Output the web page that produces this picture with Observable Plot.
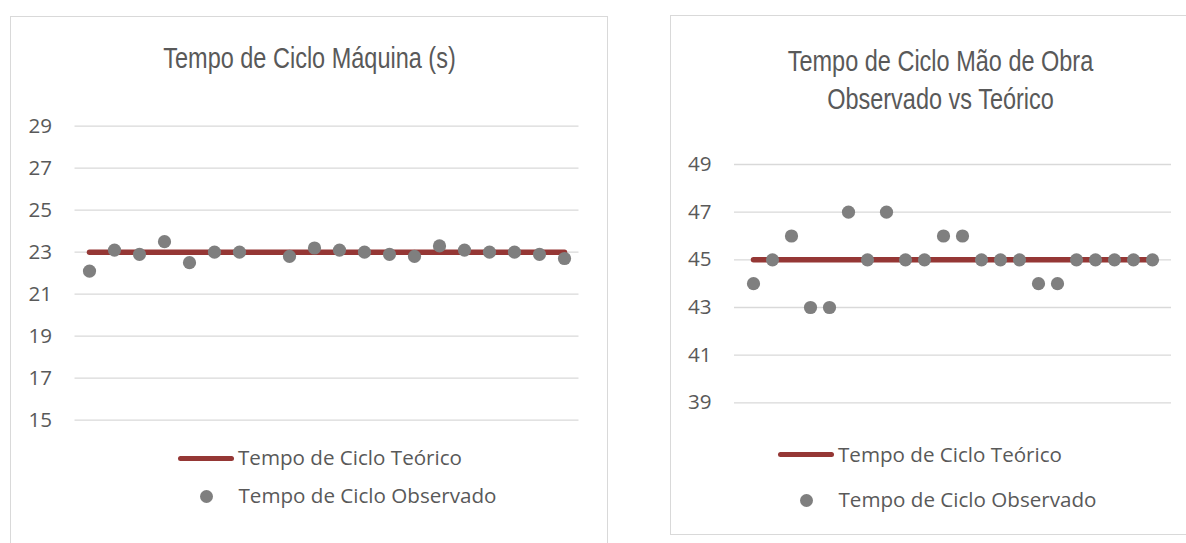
<!DOCTYPE html>
<html>
<head>
<meta charset="utf-8">
<script src="https://cdn.jsdelivr.net/npm/d3@7"></script>
<script src="https://cdn.jsdelivr.net/npm/@observablehq/plot@0.6"></script>
<style>
  html, body { margin: 0; padding: 0; background: #ffffff; }
  body { width: 1186px; height: 543px; position: relative; overflow: hidden; }
  .panel { position: absolute; box-sizing: border-box; border: 1.2px solid #d9d9d9; background: #fff; }
  .title { position: absolute; text-align: center; color: #595959; font-family: "Liberation Sans", Arial, sans-serif; font-size: 29px; line-height: 38px; white-space: nowrap; transform: scaleX(0.81); transform-origin: 50% 50%; }
  .leg { position: absolute; color: #595959; font-family: "Open Sans", sans-serif; font-size: 20.6px; line-height: 28px; white-space: nowrap; }
  .sw-line { position: absolute; height: 5px; background: #953735; border-radius: 3px; }
  .sw-dot { position: absolute; width: 13px; height: 13px; border-radius: 50%; background: #7f7f7f; }
  .plotwrap { position: absolute; }
</style>
</head>
<body>
<div class="panel" style="left:9.5px; top:15.5px; width:598.5px; height:600px;"></div>
<div class="panel" style="left:669.5px; top:15.2px; width:560px; height:519.5px;"></div>

<div class="title" style="left:10px; width:599px; top:39.3px;">Tempo de Ciclo Máquina (s)</div>
<div class="title" style="left:670px; width:541px; top:41.7px;">Tempo de Ciclo Mão de Obra<br>Observado vs Teórico</div>

<div id="leftPlot" class="plotwrap" style="left:0px; top:100px;"></div>
<div id="rightPlot" class="plotwrap" style="left:600px; top:100px;"></div>

<div class="sw-line" style="left:178.3px; width:56px; top:455.8px;"></div>
<div class="leg" style="left:238px; top:443px;">Tempo de Ciclo Teórico</div>
<div class="sw-dot" style="left:200.2px; top:490.2px;"></div>
<div class="leg" style="left:238.5px; top:481.3px;">Tempo de Ciclo Observado</div>

<div class="sw-line" style="left:778.3px; width:56px; top:451.8px;"></div>
<div class="leg" style="left:838px; top:440px;">Tempo de Ciclo Teórico</div>
<div class="sw-dot" style="left:800.2px; top:493.5px;"></div>
<div class="leg" style="left:838.5px; top:485px;">Tempo de Ciclo Observado</div>

<script>
// ---- Left chart data: Tempo de Ciclo Máquina (s)
const leftCategories = [1, 2, 3, 4, 5, 6, 7, 8, 9, 10, 11, 12, 13, 14, 15, 16, 17, 18, 19, 20];
const leftObserved = [22.1, 23.1, 22.9, 23.5, 22.5, 23.0, 23.0, null, 22.8, 23.2, 23.1, 23.0, 22.9, 22.8, 23.3, 23.1, 23.0, 23.0, 22.9, 22.7];
const leftTheoretical = [23, 23, 23, 23, 23, 23, 23, 23, 23, 23, 23, 23, 23, 23, 23, 23, 23, 23, 23, 23];
const leftTicks = [15, 17, 19, 21, 23, 25, 27, 29];

// ---- Right chart data: Tempo de Ciclo Mão de Obra
const rightCategories = [1, 2, 3, 4, 5, 6, 7, 8, 9, 10, 11, 12, 13, 14, 15, 16, 17, 18, 19, 20, 21, 22];
const rightObserved = [44, 45, 46, 43, 43, 47, 45, 47, 45, 45, 46, 46, 45, 45, 45, 44, 44, 45, 45, 45, 45, 45];
const rightTheoretical = [45, 45, 45, 45, 45, 45, 45, 45, 45, 45, 45, 45, 45, 45, 45, 45, 45, 45, 45, 45, 45, 45];
const rightTicks = [39, 41, 43, 45, 47, 49];

function chart(cats, obs, theo, ticks, opts) {
  const rows = cats.map((c, i) => ({c, obs: obs[i], theo: theo[i]}));
  return Plot.plot({
    width: opts.width,
    height: opts.height,
    marginLeft: opts.ml,
    marginRight: opts.mr,
    marginTop: opts.mt,
    marginBottom: opts.mb,
    style: {fontFamily: "'Open Sans', sans-serif", fontSize: "20.6px", color: "#595959", background: "transparent", overflow: "visible"},
    x: {type: "point", domain: cats, padding: 0.5, axis: null},
    y: {domain: [ticks[0], ticks[ticks.length - 1]], ticks: ticks, tickSize: 0, tickPadding: 23, tickFormat: d => String(d), label: null},
    marks: [
      Plot.ruleY(ticks, {stroke: "#d9d9d9", strokeWidth: 1.3}),
      Plot.line(rows, {x: "c", y: "theo", stroke: "#953735", strokeWidth: 5.5, strokeLinecap: "round"}),
      Plot.dot(rows, {x: "c", y: "obs", r: 6.6, fill: "#7f7f7f", stroke: null})
    ]
  });
}

document.getElementById("leftPlot").appendChild(
  chart(leftCategories, leftObserved, leftTheoretical, leftTicks,
        {width: 600, height: 340, ml: 74.5, mr: 21.5, mt: 25.7, mb: 20.3})
);
document.getElementById("rightPlot").appendChild(
  chart(rightCategories, rightObserved, rightTheoretical, rightTicks,
        {width: 586, height: 340, ml: 134, mr: 15, mt: 64, mb: 37.7})
);
</script>
</body>
</html>
